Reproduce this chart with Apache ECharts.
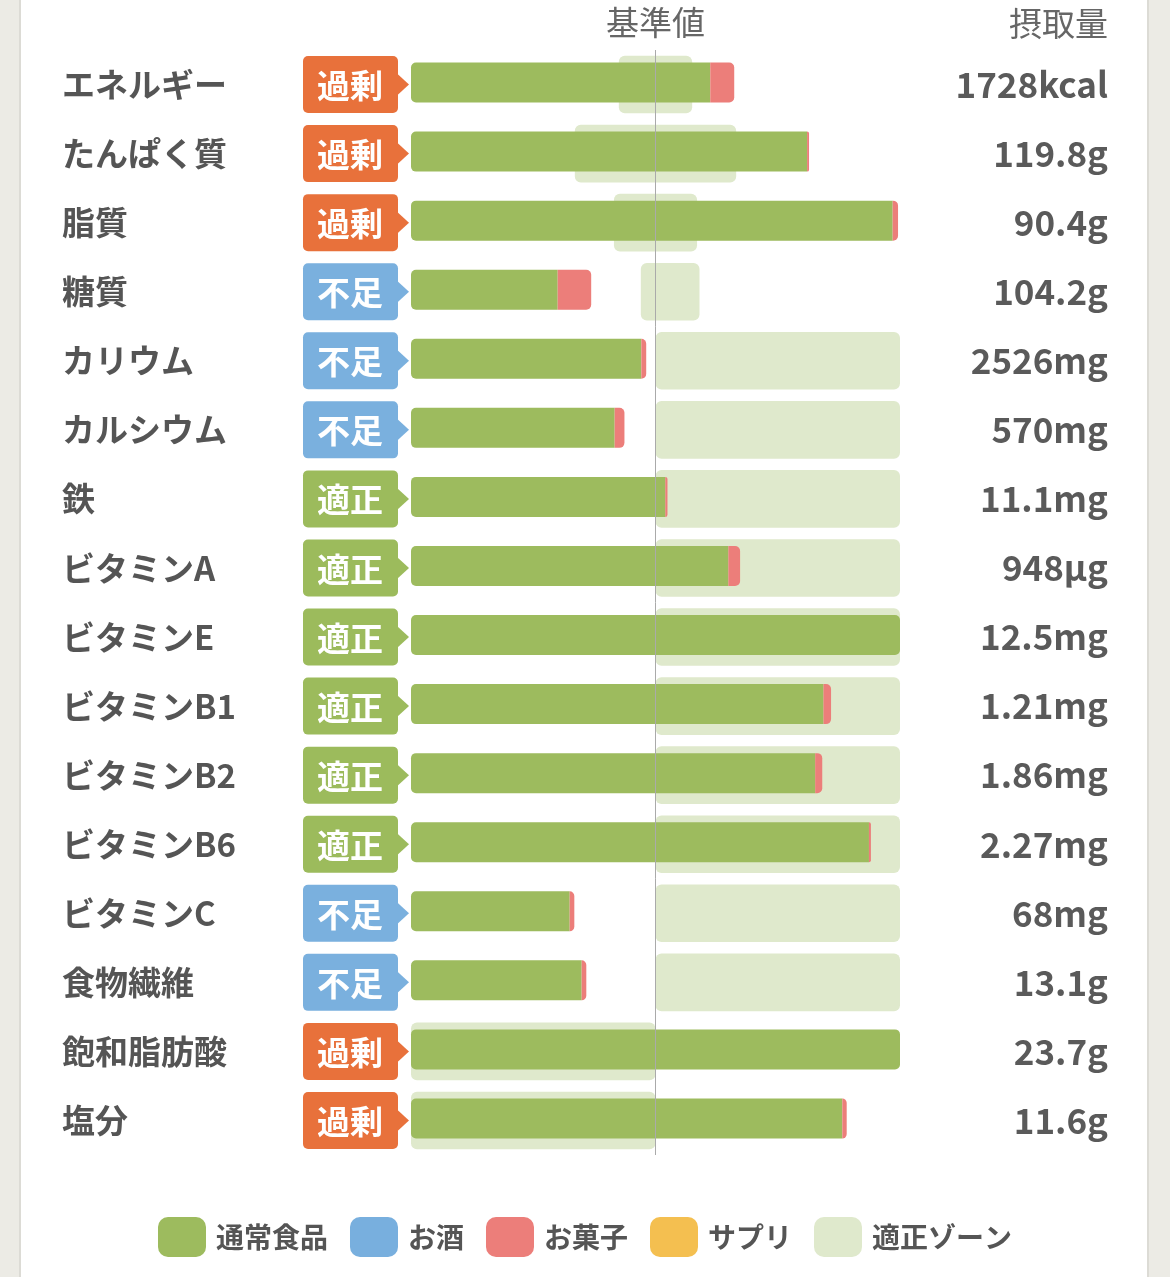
<!DOCTYPE html>
<html>
<head>
<meta charset="utf-8">
<title>栄養バランス</title>
<script src="https://cdn.jsdelivr.net/npm/echarts@6.0.0/dist/echarts.min.js"></script>
<style>
html, body {margin: 0; padding: 0; background: #ecebe5;}
#chart {
    width: 1170px; height: 1277px;
    background: linear-gradient(to right, #ecebe5 0, #ecebe5 19px, #dcdbd5 19px, #dcdbd5 21px,
        #fff 21px, #fff 1147px, #dcdbd5 1147px, #dcdbd5 1149px, #ecebe5 1149px);
}
</style>
</head>
<body>
<div id="chart"></div>
<script>
// 栄養素名
var nutrients = ['エネルギー', 'たんぱく質', '脂質', '糖質', 'カリウム', 'カルシウム', '鉄', 'ビタミンA',
    'ビタミンE', 'ビタミンB1', 'ビタミンB2', 'ビタミンB6', 'ビタミンC', '食物繊維', '飽和脂肪酸', '塩分'];
// 判定
var statuses = ['過剰', '過剰', '過剰', '不足', '不足', '不足', '適正', '適正',
    '適正', '適正', '適正', '適正', '不足', '不足', '過剰', '過剰'];
// 摂取量
var intakeLabels = ['1728kcal', '119.8g', '90.4g', '104.2g', '2526mg', '570mg', '11.1mg', '948μg',
    '12.5mg', '1.21mg', '1.86mg', '2.27mg', '68mg', '13.1g', '23.7g', '11.6g'];
// 基準値に対する割合(%) 表示は200%まで
var foodPct = [122.4, 162.0, 197.0, 60.0, 94.2, 83.3, 104.0, 129.8, 200, 168.7, 165.3, 187.3, 64.9, 69.8, 200, 176.4];
var sakePct = [0, 0, 0, 0, 0, 0, 0, 0, 0, 0, 0, 0, 0, 0, 0, 0];
var sweetsPct = [9.8, 0.8, 2.2, 13.7, 2.0, 4.0, 0.9, 4.8, 0, 3.1, 2.9, 0.8, 1.9, 1.9, 0, 1.8];
var supplePct = [0, 0, 0, 0, 0, 0, 0, 0, 0, 0, 0, 0, 0, 0, 0, 0];
// 適正ゾーン
var zoneLow = [85, 67, 83, 94, 100, 100, 100, 100, 100, 100, 100, 100, 100, 100, 0, 0];
var zoneHigh = [115, 133, 117, 118, 200, 200, 200, 200, 200, 200, 200, 200, 200, 200, 100, 100];

var FONT = '"Noto Sans CJK JP", "Noto Sans CJK SC", sans-serif';
var badgeColors = {'過剰': '#e8713b', '不足': '#7ab0de', '適正': '#9cbb5c'};
var stackList = [foodPct, sakePct, sweetsPct, supplePct];

//積み上げの両端だけ角を丸める
function segData(k) {
    return stackList[k].map(function (v, i) {
        var first = -1, last = -1;
        stackList.forEach(function (arr, j) {
            if (arr[i] > 0) {
                if (first < 0) first = j;
                last = j;
            }
        });
        var l = k === first ? 5 : 0, r = k === last ? 5 : 0;
        return {value: v, itemStyle: {borderRadius: [l, r, r, l]}};
    });
}

function barSeries(name, k, color) {
    return {
        name: name,
        type: 'bar',
        stack: 'intake',
        barWidth: 40,
        itemStyle: {color: color},
        silent: true,
        data: segData(k)
    };
}

var chart = echarts.init(document.getElementById('chart'));
chart.setOption({
    animation: false,
    textStyle: {fontFamily: FONT},
    grid: {left: 411, right: 270, top: 50, bottom: 122, outerBoundsMode: 'none', containLabel: false},
    xAxis: {
        type: 'value', min: 0, max: 200, position: 'top',
        name: '基準値', nameLocation: 'middle', nameGap: 11,
        nameTextStyle: {fontSize: 33, color: '#666', fontFamily: FONT},
        axisLine: {show: false}, axisTick: {show: false}, axisLabel: {show: false}, splitLine: {show: false}
    },
    yAxis: [{
        type: 'category', inverse: true, data: nutrients,
        axisLine: {show: false}, axisTick: {show: false},
        axisLabel: {align: 'left', margin: 349, fontSize: 33, fontWeight: 'bold', color: '#555', fontFamily: FONT}
    }, {
        type: 'category', inverse: true, position: 'right', data: intakeLabels,
        axisLine: {show: false}, axisTick: {show: false},
        axisLabel: {align: 'right', margin: 208, fontSize: 35, fontWeight: 'bold', color: '#5a5a5a', fontFamily: FONT}
    }],
    legend: {
        left: 'center', top: 1212,
        icon: 'roundRect', itemWidth: 48, itemHeight: 40, itemGap: 22,
        selectedMode: false,
        textStyle: {fontSize: 28, fontWeight: 'bold', color: '#555', fontFamily: FONT, padding: [0, 0, 0, 5]},
        data: ['通常食品', 'お酒', 'お菓子', 'サプリ', '適正ゾーン']
    },
    graphic: [{
        type: 'text', x: 1108, y: 23,
        style: {text: '摂取量', align: 'right', verticalAlign: 'middle', fill: '#666', font: '33px ' + FONT}
    }],
    series: [{
        name: '適正ゾーン',
        type: 'custom',
        z: 1,
        silent: true,
        itemStyle: {color: '#dfe9cc'},
        encode: {x: [0, 1], y: 2},
        data: zoneLow.map(function (v, i) { return [v, zoneHigh[i], i]; }),
        renderItem: function (params, api) {
            var lo = api.coord([api.value(0), api.value(2)]);
            var hi = api.coord([api.value(1), api.value(2)]);
            var h = api.size([0, 1])[1] * 0.835;
            return {
                type: 'rect',
                shape: {x: lo[0], y: lo[1] - h / 2, width: hi[0] - lo[0], height: h, r: 6},
                style: {fill: '#dfe9cc'}
            };
        }
    },
        barSeries('通常食品', 0, '#9dbb5e'),
        barSeries('お酒', 1, '#78afde'),
        barSeries('お菓子', 2, '#ec7e7a'),
        barSeries('サプリ', 3, '#f4bf50'),
        {
            name: 'badge',
            type: 'custom',
            silent: true,
            encode: {x: 0, y: 1},
            data: statuses.map(function (s, i) { return [0, i]; }),
            renderItem: function (params, api) {
                var p = api.coord([api.value(0), api.value(1)]);
                var x0 = p[0], cy = p[1];
                var s = statuses[params.dataIndex];
                var col = badgeColors[s];
                return {
                    type: 'group',
                    children: [{
                        type: 'rect',
                        shape: {x: x0 - 108, y: cy - 28.5, width: 95, height: 57, r: 5},
                        style: {fill: col}
                    }, {
                        type: 'polygon',
                        shape: {points: [[x0 - 14, cy - 11], [x0 - 2, cy], [x0 - 14, cy + 11]]},
                        style: {fill: col}
                    }, {
                        type: 'text',
                        style: {
                            text: s, x: x0 - 61, y: cy + 1, align: 'center', verticalAlign: 'middle',
                            fill: '#fff', font: 'bold 33px ' + FONT
                        }
                    }]
                };
            }
        },
        {
            name: 'line',
            type: 'bar',
            data: [],
            markLine: {
                silent: true, symbol: 'none', z: 10,
                label: {show: false},
                lineStyle: {color: '#aaa', width: 1, type: 'solid'},
                data: [{xAxis: 100}]
            }
        }]
});
</script>
</body>
</html>
